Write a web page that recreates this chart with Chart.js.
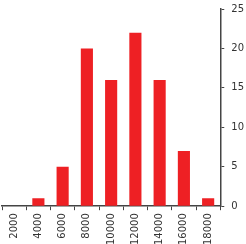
<!DOCTYPE html>
<html>
<head>
<meta charset="utf-8">
<script src="https://cdn.jsdelivr.net/npm/chart.js@4"></script>
<style>
    html, body { margin: 0; padding: 0; background: #fff; overflow: hidden; }
    #wrap { width: 251px; height: 252px; margin-top: -4px; }
</style>
</head>
<body>
<div id="wrap"><canvas id="histChart" width="251" height="252"></canvas></div>
<script>
// valores
const categorias = ["2000", "4000", "6000", "8000", "10000", "12000", "14000", "16000", "18000"];
const contagens = [0, 1, 5, 20, 16, 22, 16, 7, 1];
const ticksY = [0, 5, 10, 15, 20, 25];

const corEixo = "#444";
Chart.defaults.font.family = "'DejaVu Sans', sans-serif";
Chart.defaults.font.size = 10;
Chart.defaults.color = "#333";

const ctx = document.getElementById("histChart").getContext("2d");
const histChart = new Chart(ctx, {
    type: "bar",
    data: {
        labels: categorias,
        datasets: [{
            data: contagens,
            backgroundColor: "rgb(238, 32, 36)",
            borderWidth: 0,
            barPercentage: 0.5,
            categoryPercentage: 1.0
        }]
    },
    options: {
        responsive: false,
        animation: false,
        layout: { padding: { left: 2, right: 0, top: 0, bottom: 0 } },
        plugins: { legend: { display: false }, tooltip: { enabled: false } },
        scales: {
            x: {
                grid: { drawOnChartArea: false, drawTicks: true, tickLength: 4, color: corEixo, offset: true },
                border: { color: corEixo, width: 1.5 },
                ticks: { minRotation: 90, maxRotation: 90, padding: 3, autoSkip: false }
            },
            y: {
                position: "right",
                min: 0,
                max: 25,
                afterBuildTicks: axis => { axis.ticks = ticksY.map(v => ({ value: v })); },
                grid: { drawOnChartArea: false, drawTicks: true, tickLength: 4, color: corEixo },
                border: { color: corEixo, width: 1.5 },
                ticks: { padding: 7 }
            }
        }
    }
});
</script>
</body>
</html>
